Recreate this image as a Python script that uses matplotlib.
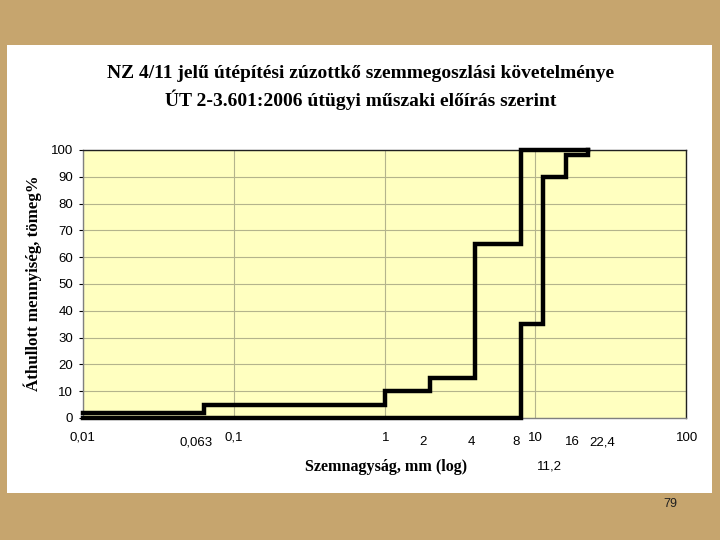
import numpy as np
import matplotlib.pyplot as plt
from matplotlib.patches import Rectangle
from matplotlib.ticker import NullLocator, FixedLocator

# szemeloszlási határgörbék (lépcsős)
felso_x = [0.01, 0.063, 1, 2, 4, 8, 22.4]
felso_y = [2, 5, 10, 15, 65, 100, 100]
also_x = [0.01, 8, 11.2, 16, 22.4]
also_y = [0, 35, 90, 98, 100]

# x tengely feliratai (szitaméretek)
szita_ertek = [0.01, 0.063, 0.1, 1, 2, 4, 8, 10, 16, 22.4, 100, 11.2]
szita_felirat = ["0,01", "0,063", "0,1", "1", "2", "4", "8", "10", "16", "22,4", "100", "11,2"]
y_ticks = list(range(0, 101, 10))

W, H = 720, 540
fig = plt.figure(figsize=(7.2, 5.4), dpi=100)
fig.patch.set_facecolor("#c6a56e")

# fehér panel
fig.patches.append(Rectangle((7 / W, 1 - 493 / H), 705 / W, 448 / H,
                             transform=fig.transFigure, facecolor="white",
                             edgecolor="none", zorder=-5))

ax = fig.add_axes([83 / W, 1 - 418 / H, 603 / W, 268 / H])
ax.set_zorder(2)
ax.set_facecolor("#ffffc0")
ax.set_xscale("log")
ax.set_xlim(0.01, 100)
ax.set_ylim(0, 100)

ax.xaxis.set_major_locator(FixedLocator([0.01, 0.1, 1, 10, 100]))
ax.xaxis.set_minor_locator(NullLocator())
ax.set_xticklabels([])
ax.tick_params(axis="x", length=0)
ax.set_yticks(y_ticks)
ax.set_yticklabels([str(v) for v in y_ticks], fontsize=9.5, family="Liberation Sans")
ax.tick_params(axis="y", length=3, width=0.8, pad=4)

ax.grid(True, which="major", color="#b4b48c", linewidth=0.8)
ax.set_axisbelow(True)
for s in ax.spines.values():
    s.set_color("#202020")
    s.set_linewidth(1.0)
ax.spines["left"].set_color("#808080")
ax.spines["bottom"].set_color("#808080")

ax.step(felso_x, felso_y, where="post", color="black", linewidth=3.2,
        solid_joinstyle="miter", clip_on=False, zorder=5)
ax.step(also_x, also_y, where="post", color="black", linewidth=3.2,
        solid_joinstyle="miter", clip_on=False, zorder=5)

# x feliratok: két-három sorban, mint az eredetin (eltolás pontban)
eltolas = {"0,01": (-0.7, 0), "0,063": (-5.4, -2.9), "0,1": (0, 0), "1": (0.7, 0),
           "2": (-5.3, -2.9), "4": (-2.7, -2.9), "8": (-3.6, -2.9), "10": (0, 0),
           "16": (4.7, -2.9), "22,4": (10.4, -2.9), "100": (0.7, 0), "11,2": (5, -20.2)}
for v, t in zip(szita_ertek, szita_felirat):
    dx, dy = eltolas[t]
    ax.annotate(t, xy=(v, 0), xycoords=("data", "axes fraction"),
                xytext=(dx, -14.4 + dy), textcoords="offset points",
                ha="center", va="center", fontsize=9.5, family="Liberation Sans")

fig.text(386 / W, 1 - 467 / H, "Szemnagyság, mm (log)", ha="center", va="center",
         fontsize=11.6, fontweight="bold", family="Liberation Serif")
fig.text(33 / W, 1 - 283 / H, "Áthullott mennyiség, tömeg%", ha="center", va="center",
         rotation=90, fontsize=12.2, fontweight="bold", family="Liberation Serif")

fig.text(361 / W, 1 - 73 / H, "NZ 4/11 jelű útépítési zúzottkő szemmegoszlási követelménye",
         ha="center", va="center", fontsize=14, fontweight="bold", family="Liberation Serif")
fig.text(361 / W, 1 - 100 / H, "ÚT 2-3.601:2006 útügyi műszaki előírás szerint",
         ha="center", va="center", fontsize=14, fontweight="bold", family="Liberation Serif")

fig.text(670 / W, 1 - 504 / H, "79", ha="center", va="center", fontsize=9,
         family="Liberation Sans", color="#202020")

fig.savefig("out.png", dpi=100, facecolor=fig.get_facecolor())
